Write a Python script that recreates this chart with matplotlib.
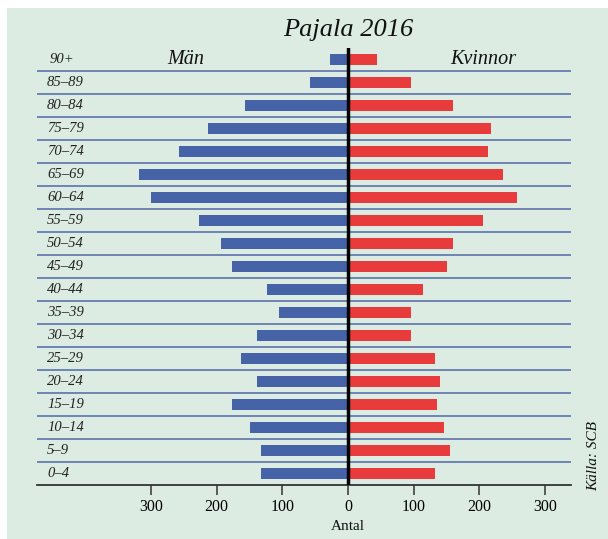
import matplotlib
matplotlib.use("Agg")
import matplotlib.pyplot as plt
from matplotlib.patches import Rectangle
from matplotlib.transforms import blended_transform_factory
import numpy as np

# age groups, top to bottom as in the picture
ages = ["90+", "85–89", "80–84", "75–79", "70–74", "65–69", "60–64", "55–59",
        "50–54", "45–49", "40–44", "35–39", "30–34", "25–29", "20–24",
        "15–19", "10–14", "5–9", "0–4"]
men = [27, 58, 157, 213, 258, 319, 300, 227, 194, 177, 123, 105, 139, 163,
       139, 177, 149, 133, 133]
women = [44, 96, 160, 218, 213, 236, 258, 206, 160, 151, 114, 96, 96, 133,
         140, 136, 146, 155, 133]
xticks = [-300, -200, -100, 0, 100, 200, 300]

plt.rcParams["font.family"] = ["Liberation Serif", "DejaVu Serif"]

W, H = 608, 539
fig = plt.figure(figsize=(W / 100, H / 100), dpi=100, facecolor="white")
bg = "#dcece2"
fig.patches.append(Rectangle((7 / W, 0), 1 - 7 / W, (H - 8) / H,
                             transform=fig.transFigure, facecolor=bg,
                             edgecolor="none", zorder=-10))

ax = fig.add_axes([37 / W, (H - 485) / H, (571 - 37) / W, (485 - 48) / H])
ax.set_facecolor("none")

n = len(ages)
ypos = np.arange(n)[::-1]  # 90+ at top
ax.barh(ypos, [-m for m in men], height=0.52, color="#4763a8", zorder=3)
ax.barh(ypos, women, height=0.52, color="#e83c3c", zorder=3)

ax.set_xlim(-474, 340)
ax.set_ylim(-0.5, n - 0.5)

# row separators
for k in range(n - 1):
    ax.axhline(k + 0.5, color="#5068a8", lw=1.1, zorder=1)
ax.axvline(0, color="black", lw=2.5, zorder=4)

for s in ["top", "right", "left"]:
    ax.spines[s].set_visible(False)
ax.spines["bottom"].set_color("#333333")
ax.spines["bottom"].set_linewidth(1.3)
ax.set_yticks([])
ax.set_xticks(xticks)
ax.set_xticklabels([str(abs(t)) for t in xticks], fontsize=11.5)
ax.tick_params(axis="x", direction="out", length=7, width=1.1,
               color="#333333", pad=3)

# age labels
tr = blended_transform_factory(fig.transFigure, ax.transData)
for y, lab in zip(ypos, ages):
    xx = 50 / W if lab == "90+" else 47 / W
    fig.text(xx, y, lab, transform=tr, ha="left", va="center",
             style="italic", fontsize=10.5, color="#222222")

ax.text(-247, n - 1, "Män", ha="center", va="center", style="italic",
        fontsize=14.5, color="#111111")
ax.text(207, n - 1, "Kvinnor", ha="center", va="center", style="italic",
        fontsize=14.5, color="#111111")

fig.text(348 / W, 1 - 30 / H, "Pajala 2016", ha="center", va="center",
         style="italic", fontsize=19, color="#111111")
fig.text(348 / W, 1 - 527 / H, "Antal", ha="center", va="center",
         fontsize=11, color="#111111")
fig.text(594 / W, 1 - 456 / H, "Källa: SCB", ha="center", va="center",
         rotation=90, style="italic", fontsize=11, color="#111111")

fig.savefig("out.png", dpi=100, facecolor="white")
